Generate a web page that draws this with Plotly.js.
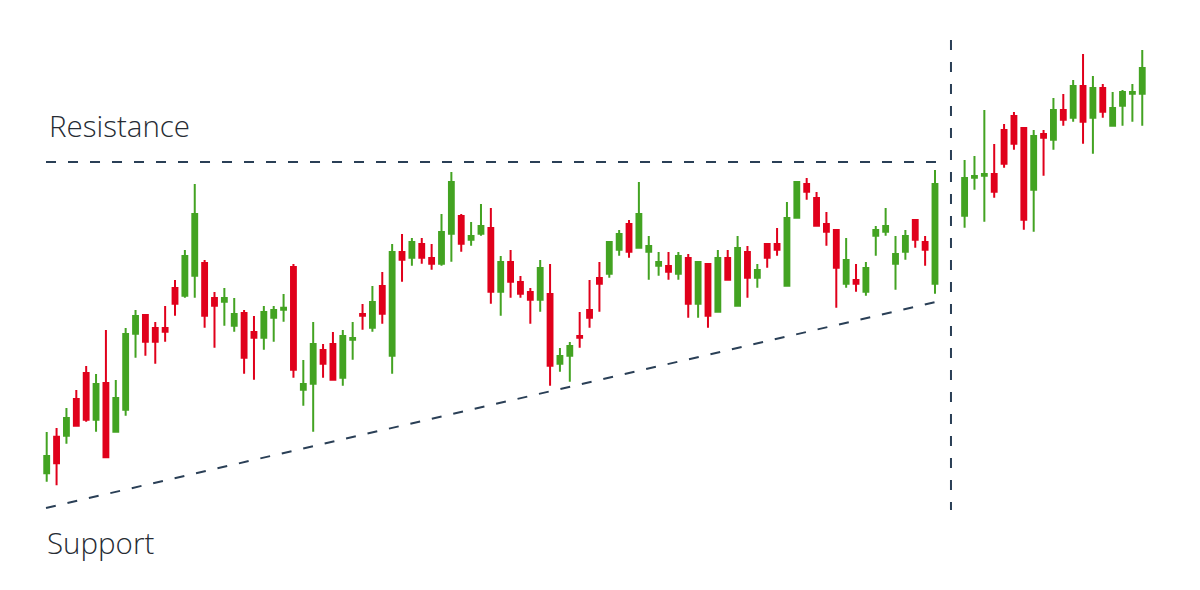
<!DOCTYPE html>
<html>
<head>
<meta charset="utf-8">
<script src="https://cdn.plot.ly/plotly-3.0.1.min.js"></script>
<style>html,body{margin:0;padding:0;background:#fff;}#chart{width:1200px;height:590px;}</style>
</head>
<body>
<div id="chart"></div>
<script>
// Session index (gap of two sessions before the breakout segment)
const sessions = [];
for (let i = 0; i <= 90; i++) sessions.push(i);
for (let i = 93; i <= 111; i++) sessions.push(i);

const openPrices = [
126.7,163.3,164.3,201,227,180.3,217,168.3,190.3,266.3,
285,272,272,312,304.3,324.3,337,302,298.3,274.3,
287,268,262.3,282.3,290.3,333,210.3,216.3,250,256,
222.3,260.3,286,272.3,314,244.3,348,342.3,356,342,
336.3,366.3,384,360.3,366.3,372,308.3,338,318,308,
300.3,306,236.3,244.3,264,290,322,326.3,350.3,376,
352.3,348.3,334.3,334,326.3,342,296.3,336,288.3,342,
294.3,348,322.3,356,356,314.3,382.3,416,402,376,
370,316.3,320,308.3,364.3,368.3,336.3,348.3,380,358,
316.3,
384.3,422.3,424.3,426,470,484,472,410.3,466,460.3,
490,482.3,514,482.3,512,474.3,494.3,506.3,506.3
];
const highPrices = [
168,172,192,210,234,226,270,220,272,290,
285,278,294,320,350,416,340,308,312,302,
290,284,294,294,306,336,240,278,256,268,
270,278,296,314,328,356,366,362,362,356,
386,428,386,378,396,392,344,350,324,312,
340,336,252,258,288,320,338,358,370,380,
418,364,348,348,348,346,338,336,350,350,
364,354,336,356,372,398,418,422,408,388,
370,362,336,338,374,392,364,370,380,364,
430,
440,444,490,456,476,488,472,470,470,502,
506,520,546,524,516,508,510,516,550
];
const lowPrices = [
118.3,114.7,156.3,174.3,178.3,168.3,142.7,168.3,184.3,242.3,
244.3,236.3,258.3,284.3,302.3,302.3,272.3,252.3,274.3,268.3,
226.3,220.3,250.3,258.3,278.3,222.3,194.3,168.3,222.3,220.3,
214.3,240.3,270.3,268.3,276.3,226.3,318.3,334.3,336.3,330.3,
334.3,338.3,348.3,354.3,364.3,296.3,284.3,302.3,302.3,276.3,
288.3,214.3,228.3,218.3,252.3,272.3,288.3,322.3,344.3,342.3,
352.3,320.3,324.3,320.3,320.3,282.3,282.3,272.3,288.3,320.3,
294.3,302.3,312.3,332.3,344.3,314.3,382.3,400.3,374.3,354.3,
292.3,312.3,308.3,304.3,344.3,364.3,310.3,340.3,352.3,334.3,
306.3,
372.3,410.3,378.3,402.3,432.3,450.3,370.3,368.3,424.3,450.3,
474.3,478.3,456.3,446.3,482.3,474.3,474.3,478.3,474.3
];
const closePrices = [
144,136.7,182,174.3,180.3,216,142.7,202,266,284,
258.3,258.3,268.3,296.3,344,386,284.3,294.3,302,286,
242.3,262.3,288,290,292.3,230.3,216,256,236.3,220.3,
264,262,284.3,298,286.3,348,340.3,358,342.3,336.3,
368,418,356.3,364,374,308.3,338,318.3,306.3,300.3,
332,234.3,244,254,262.3,282.3,316.3,358,366,348.3,
386,354,338,328.3,344,296.3,338,284.3,342,320.3,
352,322.3,330,342.3,350.3,382,418,408.3,374.3,368.3,
332.3,340,316.3,332,370,374,346,364,360.3,350.3,
416,
422,424,426,408.3,436.3,456.3,380.3,464,462.3,490,
480.3,514,478.3,512,488.3,492,508,508,532
];

// Reference levels
const resistanceLevel = 438;
const supportStart = {session: -0.07, price: 92};
const supportEnd = {session: 90.1, price: 298};
const breakoutSession = 91.62;
const labels = ["Resistance", "Support"];

const green = "#43a322";
const red = "#e0001b";
const navy = "#2a3f56";

const trace = {
  type: "candlestick",
  x: sessions,
  open: openPrices,
  high: highPrices,
  low: lowPrices,
  close: closePrices,
  increasing: {line: {color: green, width: 2}, fillcolor: green},
  decreasing: {line: {color: red, width: 2}, fillcolor: red},
  whiskerwidth: 0,
  hoverinfo: "skip"
};

const labelFont = {family: "'Open Sans', 'Noto Sans', sans-serif", size: 29.5, weight: 300, color: "#262b33"};

const layout = {
  width: 1200, height: 590,
  margin: {l: 0, r: 0, t: 0, b: 0},
  paper_bgcolor: "#fff", plot_bgcolor: "#fff",
  showlegend: false,
  xaxis: {range: [-4.7315, 116.85], visible: false, rangeslider: {visible: false}, fixedrange: true},
  yaxis: {range: [10, 600], visible: false, fixedrange: true},
  shapes: [
    {type: "line", xref: "x", yref: "y", x0: supportStart.session, x1: supportEnd.session, y0: resistanceLevel, y1: resistanceLevel,
     line: {color: navy, width: 2, dash: "10px,12px"}},
    {type: "line", xref: "x", yref: "y", x0: supportStart.session, x1: supportEnd.session, y0: supportStart.price, y1: supportEnd.price,
     line: {color: navy, width: 2, dash: "10px,12px"}},
    {type: "line", xref: "x", yref: "y", x0: breakoutSession, x1: breakoutSession, y0: 560, y1: 90,
     line: {color: navy, width: 2, dash: "10px,12px"}}
  ],
  annotations: [
    {text: labels[0], xref: "paper", yref: "paper", x: 47/1200, y: 1 - 126/590, xanchor: "left", yanchor: "middle",
     showarrow: false, font: labelFont},
    {text: labels[1], xref: "paper", yref: "paper", x: 45/1200, y: 1 - 542/590, xanchor: "left", yanchor: "middle",
     showarrow: false, font: labelFont}
  ]
};

Plotly.newPlot("chart", [trace], layout, {staticPlot: true, displayModeBar: false});
</script>
</body>
</html>
